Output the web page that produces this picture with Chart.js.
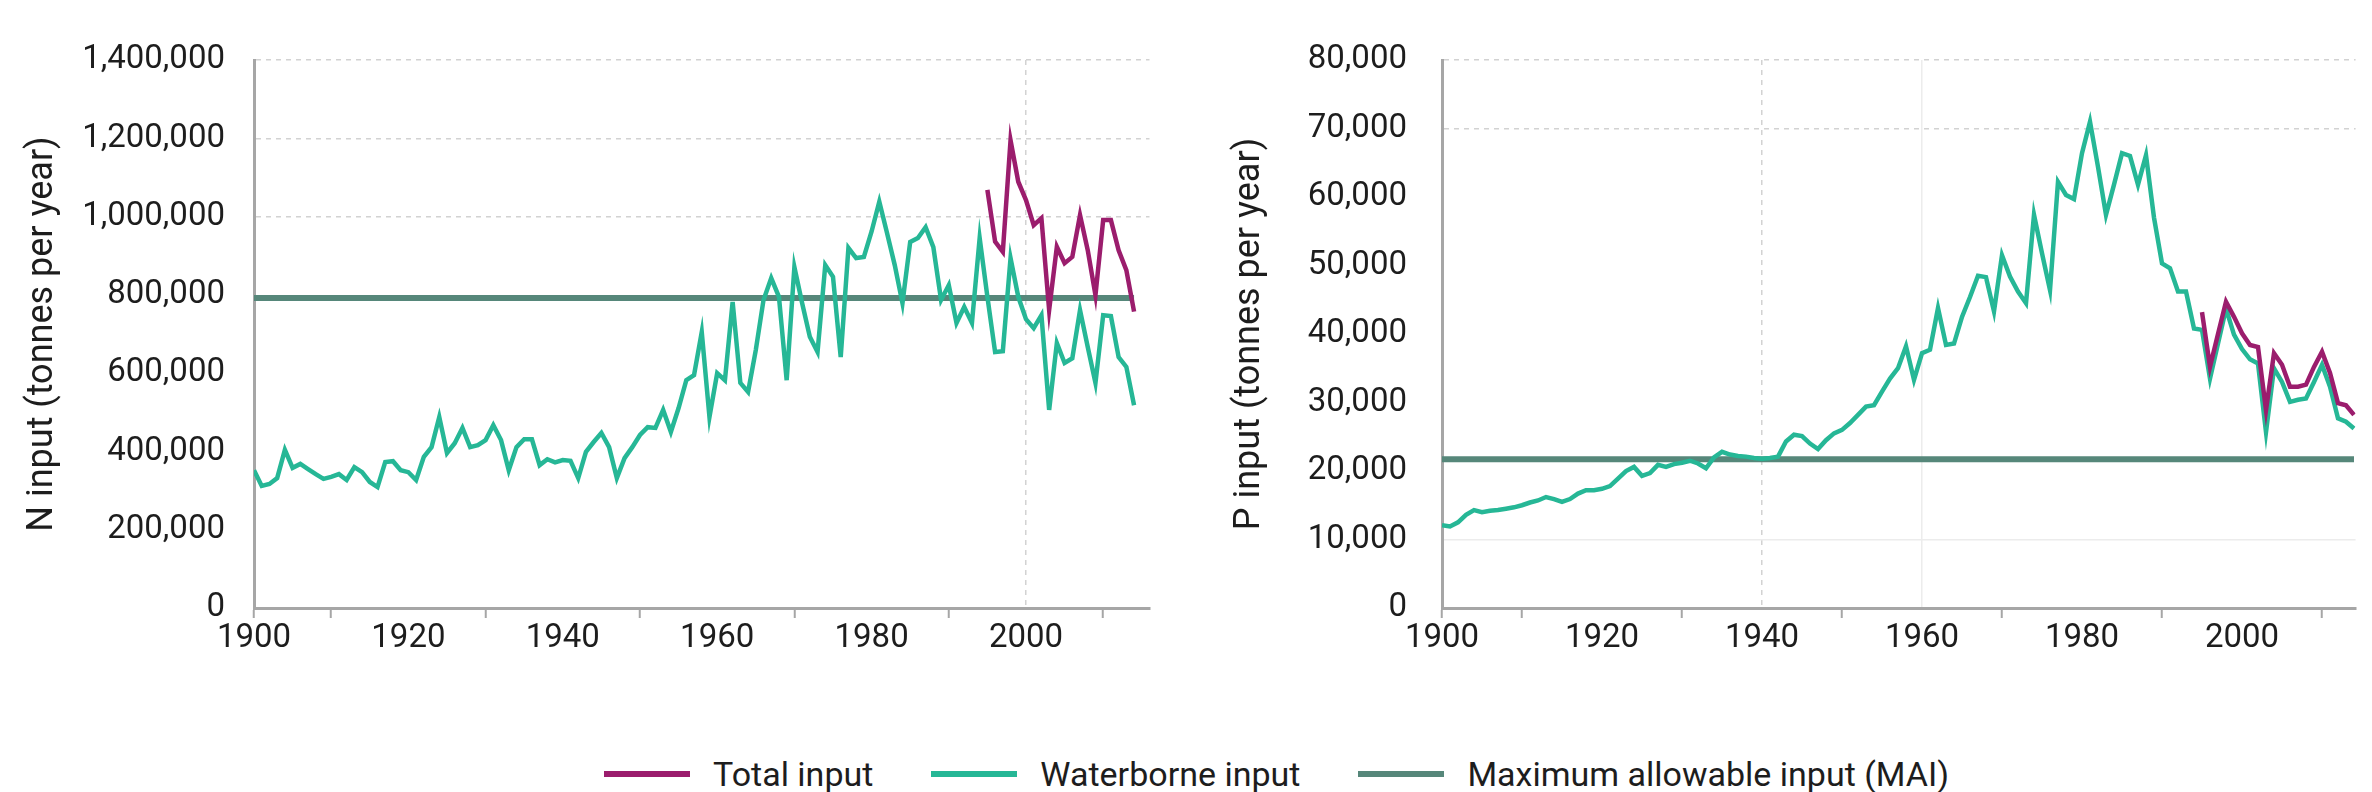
<!DOCTYPE html>
<html>
<head>
<meta charset="utf-8">
<title>N and P input to the Baltic Sea</title>
<script src="https://cdn.jsdelivr.net/npm/chart.js@4.4.0/dist/chart.umd.min.js"></script>
<style>
    html, body { margin: 0; padding: 0; background: #fff; }
    body {
        width: 2372px; height: 792px; position: relative; overflow: hidden;
        font-family: Roboto, "Liberation Sans", sans-serif; color: #1d1d1d;
    }
    #nChart { position: absolute; left: 0; top: 0; }
    #pChart { position: absolute; left: 1180px; top: 0; }
    .legend {
        position: absolute; left: 604px; top: 754px;
        display: flex; align-items: center;
        font-size: 34px; line-height: 40px; white-space: nowrap;
    }
    .legend-item { display: flex; align-items: center; margin-right: 58px; }
    .legend-swatch { width: 86px; height: 6px; margin-right: 23px; }
</style>
</head>
<body>
<canvas id="nChart" width="1180" height="680"></canvas>
<canvas id="pChart" width="1192" height="680"></canvas>
<div class="legend" id="legend"></div>

<script>
// Waterborne series start in 1900, total input is only known from 1995
const waterborneStart = 1900;
const totalStart = 1995;

// Nitrogen, tonnes per year
const nWaterborne = [
    352000, 312000, 317000, 332000, 404000, 358000, 368000, 355000, 342000, 330000,
    335000, 342000, 327000, 360000, 347000, 322000, 309000, 373000, 375000, 352000,
    347000, 327000, 386000, 411000, 488000, 396000, 421000, 460000, 411000, 416000,
    429000, 467000, 429000, 352000, 411000, 431000, 431000, 365000, 380000, 372000,
    378000, 376000, 332000, 399000, 424000, 447000, 411000, 332000, 383000, 411000,
    442000, 462000, 460000, 506000, 450000, 511000, 582000, 595000, 705000, 488000,
    600000, 582000, 782000, 575000, 552000, 659000, 787000, 843000, 795000, 582000,
    871000, 779000, 693000, 654000, 876000, 846000, 641000, 920000, 894000, 897000,
    962000, 1038000, 958000, 876000, 779000, 935000, 945000, 973000, 922000, 787000,
    825000, 728000, 769000, 728000, 945000, 795000, 654000, 656000, 894000, 795000,
    738000, 715000, 748000, 506000, 677000, 626000, 638000, 761000, 667000, 575000,
    748000, 746000, 641000, 616000, 518000
];
const nTotal = [
    1068000, 936000, 910000, 1195000, 1089000, 1042000, 978000, 996000, 761000, 923000,
    881000, 897000, 1004000, 914000, 799000, 991000, 991000, 914000, 863000, 757000
];
const nMai = 792209;

// Phosphorus, tonnes per year
const pWaterborne = [
    12100, 11900, 12500, 13600, 14300, 14000, 14200, 14300, 14500, 14700,
    15000, 15400, 15700, 16200, 15900, 15500, 15900, 16700, 17200, 17200,
    17400, 17800, 18900, 20000, 20600, 19300, 19700, 20900, 20600, 21000,
    21200, 21500, 21100, 20400, 22000, 22800, 22400, 22200, 22100, 21900,
    21800, 21900, 22100, 24300, 25300, 25100, 24000, 23200, 24500, 25500,
    26000, 27000, 28200, 29400, 29600, 31600, 33500, 35000, 38200, 33300,
    37200, 37700, 43800, 38400, 38600, 42500, 45400, 48500, 48300, 43300,
    51500, 48400, 46200, 44500, 57400, 51800, 46400, 62200, 60300, 59700,
    66400, 71000, 64400, 57400, 61800, 66400, 66000, 61800, 66100, 57000,
    50300, 49600, 46200, 46200, 40800, 40600, 33500, 38600, 43700, 39900,
    37800, 36300, 35700, 25700, 35000, 33000, 30100, 30400, 30600, 33000,
    35500, 32300, 27700, 27200, 26200
];
const pTotal = [
    43200, 35200, 40000, 44700, 42500, 40100, 38400, 38100, 28900, 37200,
    35500, 32300, 32300, 32600, 35200, 37400, 34300, 29900, 29600, 28200
];
const pMai = 21716;

// Axis ticks
const yearTicks = [1900, 1910, 1920, 1930, 1940, 1950, 1960, 1970, 1980, 1990, 2000, 2010];
const yearLabels = [1900, 1920, 1940, 1960, 1980, 2000];
const nTicks = [0, 200000, 400000, 600000, 800000, 1000000, 1200000, 1400000];
const pTicks = [0, 10000, 20000, 30000, 40000, 50000, 60000, 70000, 80000];

const seriesNames = ['Total input', 'Waterborne input', 'Maximum allowable input (MAI)'];
const seriesColors = ['#9b1d6d', '#26b796', '#56877a'];

const axisGrey = '#a6a6a6';
const none = 'rgba(0,0,0,0)';

Chart.defaults.font.family = 'Roboto, "Liberation Sans", sans-serif';
Chart.defaults.font.size = 33;
Chart.defaults.color = '#1d1d1d';

function toPoints(values, startYear) {
    return values.map((v, i) => ({ x: startYear + i, y: v }));
}

// only a few faint reference lines show in the plot area
function lineStyle(lines) {
    const pick = c => (c.tick && lines[c.tick.value]) || null;
    return {
        color: c => (pick(c) ? pick(c).color : none),
        dash: c => (pick(c) ? pick(c).dash : [])
    };
}

function buildChart(canvas, opts) {
    const xLines = lineStyle(opts.xLines);
    const yLines = lineStyle(opts.yLines);

    return new Chart(canvas, {
        type: 'line',
        data: {
            datasets: [
                {
                    label: seriesNames[0],
                    data: toPoints(opts.total, totalStart),
                    borderColor: seriesColors[0],
                    borderWidth: 4.5
                },
                {
                    label: seriesNames[1],
                    data: toPoints(opts.waterborne, waterborneStart),
                    borderColor: seriesColors[1],
                    borderWidth: 4.5
                },
                {
                    label: seriesNames[2],
                    data: [{ x: 1900, y: opts.mai }, { x: 2014, y: opts.mai }],
                    borderColor: seriesColors[2],
                    borderWidth: 6
                }
            ]
        },
        options: {
            responsive: false,
            animation: false,
            layout: { padding: opts.padding },
            elements: {
                point: { radius: 0 },
                line: { tension: 0, fill: false }
            },
            plugins: {
                legend: { display: false },
                tooltip: { enabled: false }
            },
            scales: {
                x: {
                    type: 'linear',
                    min: 1900,
                    max: opts.xMax,
                    afterBuildTicks: s => { s.ticks = yearTicks.map(v => ({ value: v })); },
                    afterFit: s => { s.height = 60; },
                    ticks: {
                        autoSkip: false,
                        maxRotation: 0,
                        padding: 1,
                        callback: v => (yearLabels.includes(v) ? String(v) : '')
                    },
                    grid: {
                        color: xLines.color,
                        lineWidth: 1.5,
                        tickLength: 10,
                        tickWidth: 2,
                        tickColor: c => (c.tick && (c.tick.value % 20 === 10 || c.tick.value === 1900)) ? axisGrey : none
                    },
                    border: { color: axisGrey, width: 3, dash: xLines.dash }
                },
                y: {
                    min: 0,
                    max: opts.yTicks[opts.yTicks.length - 1],
                    afterBuildTicks: s => { s.ticks = opts.yTicks.map(v => ({ value: v })); },
                    afterFit: s => { s.width = opts.yWidth; },
                    ticks: {
                        padding: opts.labelGap,
                        callback: v => v.toLocaleString('en-US')
                    },
                    grid: { color: yLines.color, lineWidth: 1.5, drawTicks: false },
                    border: { color: axisGrey, width: 3, dash: yLines.dash },
                    title: {
                        display: true,
                        text: opts.title,
                        font: { size: 36 },
                        padding: { top: opts.titleGap, bottom: 0 }
                    }
                }
            }
        }
    });
}

document.addEventListener('DOMContentLoaded', function() {
    const dashed = { color: '#d2d2d2', dash: [5, 5] };
    const faint = { color: '#ececec', dash: [] };

    // Nitrogen chart
    buildChart(document.getElementById('nChart'), {
        title: 'N input (tonnes per year)',
        total: nTotal,
        waterborne: nWaterborne,
        mai: nMai,
        yTicks: nTicks,
        xMax: 2016,
        yWidth: 254,
        labelGap: 29,
        titleGap: 21,
        padding: { left: 0, right: 30.5, top: 60, bottom: 12 },
        xLines: { 2000: dashed },
        yLines: { 1000000: dashed, 1200000: dashed, 1400000: dashed }
    });

    // Phosphorus chart
    buildChart(document.getElementById('pChart'), {
        title: 'P input (tonnes per year)',
        total: pTotal,
        waterborne: pWaterborne,
        mai: pMai,
        yTicks: pTicks,
        xMax: 2014.2,
        yWidth: 233,
        labelGap: 35,
        titleGap: 19,
        padding: { left: 29, right: 16.4, top: 60, bottom: 12 },
        xLines: { 1940: dashed, 1960: faint },
        yLines: { 10000: faint, 70000: dashed, 80000: dashed }
    });

    // Shared legend under both charts
    const legend = document.getElementById('legend');
    seriesNames.forEach((name, i) => {
        const item = document.createElement('div');
        item.className = 'legend-item';
        item.innerHTML = `<span class="legend-swatch" style="background:${seriesColors[i]}"></span><span>${name}</span>`;
        legend.appendChild(item);
    });
});
</script>
</body>
</html>
